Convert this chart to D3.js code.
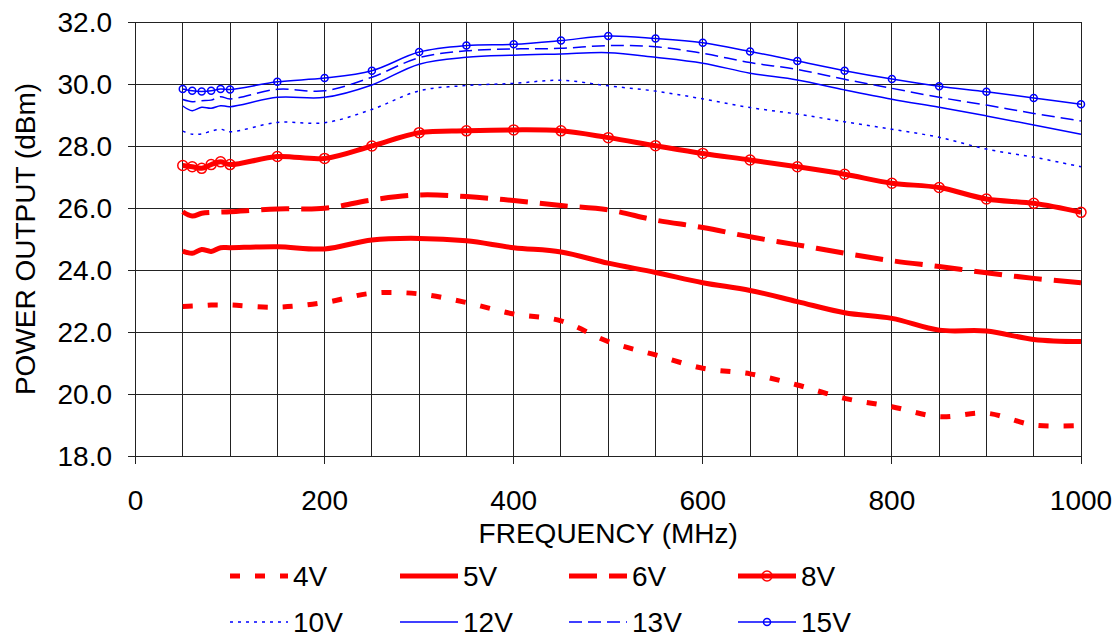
<!DOCTYPE html>
<html>
<head>
<meta charset="utf-8">
<script src="https://cdn.jsdelivr.net/npm/d3@7"></script>
<style>
  body { margin: 0; background: #fff; }
  svg { display: block; font-family: "Liberation Sans", Arial, sans-serif; }
</style>
</head>
<body>
<svg id="chart" width="1120" height="639"></svg>
<script>
// --- Data ---
const freqs = [50, 60, 70, 80, 90, 100, 150, 200, 250, 300, 350, 400, 450, 500,
    550, 600, 650, 700, 750, 800, 850, 900, 950, 1000];

const v4 = [22.82, 22.84, 22.85, 22.87, 22.87, 22.87, 22.80, 22.95, 23.25, 23.23, 22.95, 22.58,
    22.36, 21.69, 21.26, 20.83, 20.65, 20.29, 19.86, 19.59, 19.27, 19.38, 19.00, 18.98];
const v5 = [24.61, 24.54, 24.66, 24.60, 24.72, 24.72, 24.75, 24.68, 24.97, 25.02, 24.94, 24.72,
    24.58, 24.22, 23.92, 23.59, 23.34, 22.98, 22.62, 22.44, 22.06, 22.03, 21.76, 21.69];
const v6 = [25.88, 25.74, 25.83, 25.86, 25.87, 25.88, 25.97, 25.99, 26.26, 26.42, 26.37, 26.24,
    26.08, 25.94, 25.61, 25.37, 25.07, 24.81, 24.54, 24.30, 24.11, 23.91, 23.73, 23.59];
const v8 = [27.37, 27.33, 27.28, 27.40, 27.49, 27.40, 27.66, 27.60, 28.00, 28.43, 28.49, 28.52,
    28.49, 28.27, 28.01, 27.76, 27.55, 27.33, 27.09, 26.80, 26.66, 26.29, 26.15, 25.86];
const v10 = [28.48, 28.38, 28.39, 28.48, 28.54, 28.46, 28.76, 28.75, 29.18, 29.78, 29.95, 30.02,
    30.12, 29.94, 29.77, 29.52, 29.24, 29.03, 28.78, 28.54, 28.28, 27.90, 27.64, 27.33];
const v12 = [29.29, 29.14, 29.25, 29.22, 29.30, 29.27, 29.57, 29.57, 29.97, 30.64, 30.86, 30.93,
    30.97, 31.01, 30.86, 30.67, 30.35, 30.13, 29.81, 29.51, 29.25, 28.97, 28.68, 28.38];
const v13 = [29.50, 29.43, 29.46, 29.48, 29.59, 29.52, 29.83, 29.78, 30.22, 30.85, 31.07, 31.13,
    31.15, 31.24, 31.20, 30.99, 30.69, 30.47, 30.15, 29.86, 29.57, 29.32, 29.05, 28.81];
const v15 = [29.84, 29.78, 29.76, 29.78, 29.84, 29.82, 30.07, 30.19, 30.43, 31.03, 31.24, 31.28,
    31.40, 31.55, 31.47, 31.33, 31.05, 30.74, 30.43, 30.16, 29.93, 29.75, 29.55, 29.35];

const seriesNames = ["4V", "5V", "6V", "8V", "10V", "12V", "13V", "15V"];
const seriesValues = [v4, v5, v6, v8, v10, v12, v13, v15];

const xTicks = [0, 200, 400, 600, 800, 1000];
const yTicks = [18, 20, 22, 24, 26, 28, 30, 32];
const xGrid = d3.range(50, 1001, 50);

// --- Styles per series ---
const RED = "#ff0000", BLUE = "#0000ff";
const styles = {
    "4V":  { color: RED,  width: 5,   dash: "10,15", marker: 0 },
    "5V":  { color: RED,  width: 5,   dash: null,    marker: 0 },
    "6V":  { color: RED,  width: 5,   dash: "28,12", marker: 0 },
    "8V":  { color: RED,  width: 5,   dash: null,    marker: 5 },
    "10V": { color: BLUE, width: 1.5, dash: "3,5",   marker: 0 },
    "12V": { color: BLUE, width: 1.5, dash: null,    marker: 0 },
    "13V": { color: BLUE, width: 1.5, dash: "13,6",  marker: 0 },
    "15V": { color: BLUE, width: 1.5, dash: null,    marker: 3.5 },
};

const svg = d3.select("#chart");
const plotLeft = 135.5, plotRight = 1081, plotTop = 22, plotBottom = 456;

const x = d3.scaleLinear().domain([0, 1000]).range([plotLeft, plotRight]);
const y = d3.scaleLinear().domain([18, 32]).range([plotBottom, plotTop]);

// --- Grid ---
const grid = svg.append("g").attr("stroke", "#222").attr("stroke-width", 1)
    .attr("shape-rendering", "crispEdges");

grid.selectAll(".hgrid")
    .data(yTicks)
    .enter()
    .append("line")
    .attr("x1", plotLeft - 8)
    .attr("x2", plotRight)
    .attr("y1", (d) => y(d))
    .attr("y2", (d) => y(d));

grid.selectAll(".vgrid")
    .data(xGrid)
    .enter()
    .append("line")
    .attr("x1", (d) => x(d))
    .attr("x2", (d) => x(d))
    .attr("y1", plotTop)
    .attr("y2", plotBottom);

// y axis line + x ticks
grid.append("line").attr("x1", plotLeft).attr("x2", plotLeft)
    .attr("y1", plotTop).attr("y2", plotBottom + 8);
grid.selectAll(".xtick")
    .data(xTicks)
    .enter()
    .append("line")
    .attr("x1", (d) => x(d))
    .attr("x2", (d) => x(d))
    .attr("y1", plotBottom)
    .attr("y2", plotBottom + 8);

// --- Tick labels ---
svg.append("g")
    .selectAll("text")
    .data(yTicks)
    .enter()
    .append("text")
    .attr("x", 112)
    .attr("y", (d) => y(d) + 10)
    .attr("text-anchor", "end")
    .attr("font-size", 28)
    .text((d) => d.toFixed(1));

svg.append("g")
    .selectAll("text")
    .data(xTicks)
    .enter()
    .append("text")
    .attr("x", (d) => x(d))
    .attr("y", 510)
    .attr("text-anchor", "middle")
    .attr("font-size", 28)
    .text((d) => d);

svg.append("text")
    .attr("x", (plotLeft + plotRight) / 2)
    .attr("y", 543)
    .attr("text-anchor", "middle")
    .attr("font-size", 28)
    .text("FREQUENCY (MHz)");

svg.append("text")
    .attr("transform", `translate(35,${(plotTop + plotBottom) / 2}) rotate(-90)`)
    .attr("text-anchor", "middle")
    .attr("font-size", 28)
    .text("POWER OUTPUT (dBm)");

// --- Series ---
const line = d3.line()
    .x((d) => x(d[0]))
    .y((d) => y(d[1]))
    .curve(d3.curveCatmullRom.alpha(0.5));

const plot = svg.append("g");

seriesNames.forEach((name, i) => {
    const st = styles[name];
    const pts = freqs.map((f, j) => [f, seriesValues[i][j]]);
    plot.append("path")
        .datum(pts)
        .attr("d", line)
        .attr("fill", "none")
        .attr("stroke", st.color)
        .attr("stroke-width", st.width)
        .attr("stroke-dasharray", st.dash);
    if (st.marker) {
        plot.append("g")
            .selectAll("circle")
            .data(pts)
            .enter()
            .append("circle")
            .attr("cx", (d) => x(d[0]))
            .attr("cy", (d) => y(d[1]))
            .attr("r", st.marker)
            .attr("fill", "none")
            .attr("stroke", st.color)
            .attr("stroke-width", 1.5);
    }
});

// --- Legend ---
const legCols = [230, 400, 569, 738];
const legRows = [576, 622];
const sampleLen = 58;

const legend = svg.append("g");
seriesNames.forEach((name, i) => {
    const st = styles[name];
    const lx = legCols[i % 4];
    const ly = legRows[Math.floor(i / 4)];
    const g = legend.append("g");
    g.append("line")
        .attr("x1", lx)
        .attr("x2", lx + sampleLen)
        .attr("y1", ly)
        .attr("y2", ly)
        .attr("stroke", st.color)
        .attr("stroke-width", st.width)
        .attr("stroke-dasharray", st.dash);
    if (st.marker) {
        g.append("circle")
            .attr("cx", lx + sampleLen / 2)
            .attr("cy", ly)
            .attr("r", st.marker)
            .attr("fill", "none")
            .attr("stroke", st.color)
            .attr("stroke-width", 1.5);
    }
    g.append("text")
        .attr("x", lx + sampleLen + 5)
        .attr("y", ly + 10)
        .attr("font-size", 28)
        .text(name);
});
</script>
</body>
</html>
